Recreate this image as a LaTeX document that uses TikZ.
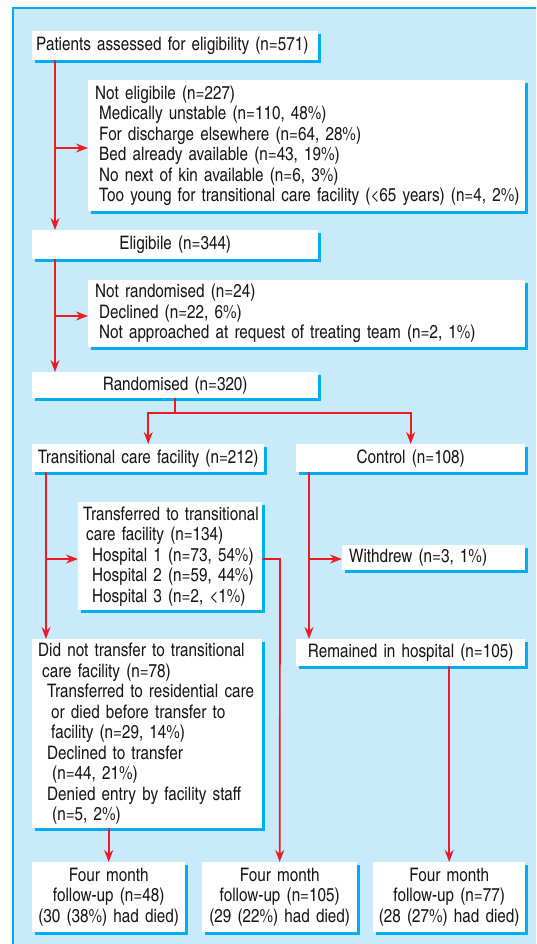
\documentclass[tikz,border=0pt]{standalone}
\usepackage{fontspec}
\setmainfont{texgyreheroscn-regular}[Extension=.otf]
\usetikzlibrary{arrows.meta,shadows}
\definecolor{bgblue}{RGB}{200,234,250}
\definecolor{cyanline}{RGB}{0,174,239}
\definecolor{arrred}{RGB}{237,28,36}
\definecolor{txt}{RGB}{25,22,23}
\newcommand{\myln}[2][0]{\mbox{\hspace*{#1pt}#2}}
\hfuzz=50pt
\begin{document}
\begin{tikzpicture}[x=1pt,y=-1pt,
  font=\fontsize{18.6}{20.5}\selectfont,
  box/.style={fill=white, inner ysep=0pt, text=txt, anchor=north west,
    drop shadow={shadow xshift=3pt, shadow yshift=-3pt, fill=cyanline, opacity=1}},
  redarrow/.style={draw=arrred, line width=1.7pt, -{Stealth[length=12pt,width=9pt]}},
  redline/.style={draw=arrred, line width=1.7pt}]
\useasboundingbox (0,0) rectangle (536,944);
\fill[bgblue] (13,8) rectangle (536,944);
\draw[cyanline, line width=1.5pt] (13,944) -- (13,8) -- (536,8);

\node[box, text width=278pt, inner xsep=4pt, minimum height=29pt, align=left] (b1) at (32,31)
  {\myln{Patients assessed for eligibility (n=571)}};
\node[box, text width=423pt, inner xsep=7pt, minimum height=131pt, align=left] (ne) at (88,80)
  {\myln{Not eligibile (n=227)}\\
   \myln[4]{Medically unstable (n=110, 48\%)}\\
   \myln[4]{For discharge elsewhere (n=64, 28\%)}\\
   \myln[4]{Bed already available (n=43, 19\%)}\\
   \myln[4]{No next of kin available (n=6, 3\%)}\\
   \myln[4]{Too young for transitional care facility (<65 years) (n=4, 2\%)}};
\node[box, text width=276pt, inner xsep=5pt, minimum height=29pt, align=center] (el) at (32,230)
  {Eligibile (n=344)};
\node[box, text width=423pt, inner xsep=7pt, minimum height=67pt, align=left] (nr) at (88,280)
  {\myln{Not randomised (n=24)}\\
   \myln[4]{Declined (n=22, 6\%)}\\
   \myln[4]{Not approached at request of treating team (n=2, 1\%)}};
\node[box, text width=276pt, inner xsep=5pt, minimum height=26pt, align=center] (ra) at (32,372)
  {Randomised (n=320)};
\node[box, text width=230pt, inner xsep=1pt, minimum height=28pt, align=center] (tcf) at (32,444)
  {\mbox{Transitional care facility (n=212)}};
\node[box, text width=221pt, inner xsep=4pt, minimum height=28pt, align=center] (con) at (296,444)
  {Control (n=108)};
\node[box, text width=174pt, inner xsep=5pt, minimum height=108pt, align=left] (tr) at (78,502)
  {\myln{Transferred to transitional}\\
   \myln[3]{care facility (n=134)}\\
   \myln[9]{Hospital 1 (n=73, 54\%)}\\
   \myln[9]{Hospital 2 (n=59, 44\%)}\\
   \myln[9]{Hospital 3 (n=2, <1\%)}};
\node[box, text width=169pt, inner xsep=7pt, minimum height=25pt, align=left] (wd) at (342,545)
  {\myln{Withdrew (n=3, 1\%)}};
\node[box, text width=221pt, inner xsep=4pt, minimum height=27pt, align=center] (rh) at (296,639)
  {\mbox{Remained in hospital (n=105)}};
\node[box, text width=218pt, inner xsep=6pt, minimum height=189pt, align=left] (dnt) at (32,639)
  {\myln{Did not transfer to transitional}\\
   \myln[4]{care facility (n=78)}\\
   \myln[9]{Transferred to residential care}\\
   \myln[13]{or died before transfer to}\\
   \myln[13]{facility (n=29, 14\%)}\\
   \myln[9]{Declined to transfer}\\
   \myln[14]{(n=44, 21\%)}\\
   \myln[9]{Denied entry by facility staff}\\
   \myln[14]{(n=5, 2\%)}};
\node[box, text width=151pt, inner xsep=1pt, minimum height=70pt, align=center] (f1) at (32,862)
  {Four month\\\mbox{follow-up (n=48)}\\\mbox{(30 (38\%) had died)}};
\node[box, text width=153pt, inner xsep=1pt, minimum height=70pt, align=center] (f2) at (202,862)
  {Four month\\\mbox{follow-up (n=105)}\\\mbox{(29 (22\%) had died)}};
\node[box, text width=150pt, inner xsep=1pt, minimum height=70pt, align=center] (f3) at (373,862)
  {Four month\\\mbox{follow-up (n=77)}\\\mbox{(28 (27\%) had died)}};

\coordinate (c1) at (55,148);
\draw[redarrow] (b1.south -| c1) -- (el.north -| c1);
\draw[redarrow] (c1) -- (ne.west |- c1);
\coordinate (c2) at (55,316);
\draw[redarrow] (el.south -| c2) -- (ra.north -| c2);
\draw[redarrow] (c2) -- (nr.west |- c2);
\coordinate (c3) at (175,413);
\draw[redline] (ra.south -| c3) -- (c3);
\draw[redarrow] (c3) -| (tcf.north);
\draw[redarrow] (c3) -| (con.north);
\coordinate (c4) at (46,559);
\draw[redarrow] (tcf.south -| c4) -- (dnt.north -| c4);
\draw[redarrow] (c4) -- (tr.west |- c4);
\coordinate (c5) at (280,559);
\draw[redarrow] (tr.east |- c5) -- (c5) -- (f2.north);
\coordinate (c6) at (309,559);
\draw[redarrow] (con.south -| c6) -- (rh.north -| c6);
\draw[redarrow] (c6) -- (wd.west |- c6);
\draw[redarrow] (rh.south -| f3.north) -- (f3.north);
\draw[redarrow] (dnt.south -| f1.north) -- (f1.north);
\end{tikzpicture}
\end{document}
